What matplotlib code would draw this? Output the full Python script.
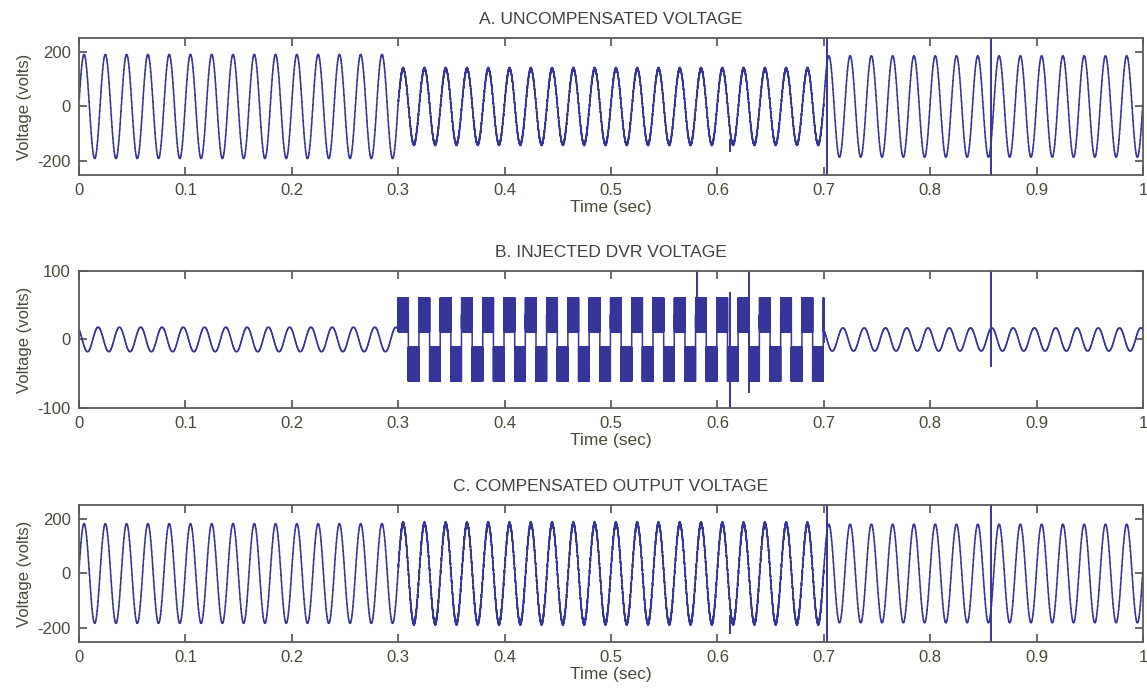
import numpy as np
import matplotlib.pyplot as plt

# Time axis and segment boundaries (sec): normal, sag, normal
t_start = 0.0
t_end = 1.0
sag_edges = [0.3, 0.7]
freq = 50.0            # supply frequency (Hz)
step = 0.0004          # simulation sample step (gives staircase look)

# A. uncompensated voltage: peak amplitude per segment (volts)
amp_A = [190, 138, 185]
phase_A = 0.16
ripple_A = [0, 5, 0]
# spikes in A (time, low, high)
spike_A_t = [0.703, 0.857, 0.612]
spike_A_lo = [-260, -260, -165]
spike_A_hi = [260, 260, -120]

# B. injected DVR voltage
amp_B = [18, 0, 17]
phase_B = 2.29
square_B = 36          # level of the square blocks during the sag
ripple_B = 25          # switching ripple on the blocks
ripple_freq_B = 5000
spike_B_t = [0.581, 0.612, 0.630, 0.857, 0.7005]
spike_B_lo = [15, -110, -78, -40, -5]
spike_B_hi = [110, 70, 110, 110, 35]

# C. compensated output voltage
amp_C = [182, 182, 180]
phase_C = 0.16
ripple_C = [0, 7, 0]
spike_C_t = [0.703, 0.857, 0.612]
spike_C_lo = [-260, -260, -220]
spike_C_hi = [260, 260, -150]

titles = ["A. UNCOMPENSATED VOLTAGE", "B. INJECTED DVR VOLTAGE",
          "C. COMPENSATED OUTPUT VOLTAGE"]
ylims = [(-250, 250), (-100, 100), (-250, 250)]
yticks = [[-200, 0, 200], [-100, 0, 100], [-200, 0, 200]]
xticks = [0, 0.1, 0.2, 0.3, 0.4, 0.5, 0.6, 0.7, 0.8, 0.9, 1]
xticklabels = ["0", "0.1", "0.2", "0.3", "0.4", "0.5", "0.6", "0.7", "0.8", "0.9", "1"]


def segment_values(t, vals):
    seg = np.digitize(t, sag_edges)
    return np.asarray(vals, dtype=float)[seg]


t = np.arange(t_start, t_end, 1e-5)
tq = np.floor(t / step) * step
w = 2 * np.pi * freq

vA = segment_values(tq, amp_A) * np.sin(w * tq + phase_A) \
    + segment_values(t, ripple_A) * np.sin(2 * np.pi * 2500 * t)
vC = segment_values(tq, amp_C) * np.sin(w * tq + phase_C) \
    + segment_values(t, ripple_C) * np.sin(2 * np.pi * 2500 * t)

in_sag = (t >= sag_edges[0]) & (t < sag_edges[1])
vB = segment_values(tq, amp_B) * np.sin(w * tq + phase_B)
blocks = square_B * np.sign(np.sin(w * (t - 0.2995))) \
    + ripple_B * np.sin(2 * np.pi * ripple_freq_B * t)
vB = np.where(in_sag, blocks, vB)

series = [vA, vB, vC]
spikes = [(spike_A_t, spike_A_lo, spike_A_hi),
          (spike_B_t, spike_B_lo, spike_B_hi),
          (spike_C_t, spike_C_lo, spike_C_hi)]

plt.rcParams['font.family'] = ['Liberation Sans', 'DejaVu Sans']
plt.rcParams['axes.unicode_minus'] = False
line_color = '#36369a'
text_color = '#4a4838'

fig = plt.figure(figsize=(11.47, 6.93), dpi=100, facecolor='white')
bottoms = [0.7475, 0.4113, 0.0736]
for i in range(3):
    ax = fig.add_axes([0.0689, bottoms[i], 0.9276, 0.1977])
    ax.plot(t, series[i], color=line_color, lw=1.1)
    st, lo, hi = spikes[i]
    ax.vlines(st, lo, hi, color=line_color, lw=1.4)
    ax.set_xlim(0, 1)
    ax.set_ylim(*ylims[i])
    ax.set_xticks(xticks)
    ax.set_xticklabels(xticklabels)
    ax.set_yticks(yticks[i])
    ax.tick_params(direction='in', length=6, width=1.2, top=True, right=True,
                   labelsize=12, colors='#505050', labelcolor=text_color, pad=6)
    for sp in ax.spines.values():
        sp.set_color('#5a5a5a')
        sp.set_linewidth(1.3)
    ax.set_title(titles[i], fontsize=12.5, color='#404040', pad=10)
    ax.set_xlabel("Time (sec)", fontsize=12.5, color=text_color, labelpad=1)
    ax.set_ylabel("Voltage (volts)", fontsize=12, color=text_color, labelpad=4)

fig.savefig("out.png", dpi=100, facecolor='white')
